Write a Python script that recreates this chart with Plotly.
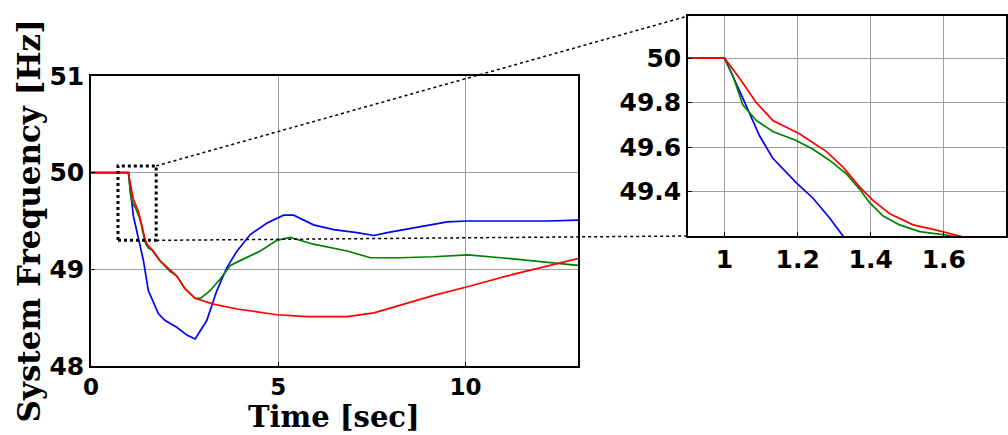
import plotly.graph_objects as go

# ---- data ----
t_blue = [0, 1.0, 1.050, 1.096, 1.132, 1.155, 1.196, 1.242, 1.288, 1.324, 1.40, 1.53, 1.80, 1.98, 2.29,
          2.56, 2.78, 3.09, 3.36, 3.63, 3.90, 4.25, 4.70, 5.14, 5.41, 5.94, 6.48, 7.10, 7.55, 7.91,
          8.62, 9.51, 10.05, 12.18, 13.0]
f_blue = [50, 50, 49.82, 49.65, 49.55, 49.51, 49.44, 49.37, 49.28, 49.20, 49.09, 48.78, 48.54, 48.47, 48.40,
          48.32, 48.28, 48.47, 48.78, 49.02, 49.19, 49.36, 49.48, 49.56, 49.56, 49.46, 49.41, 49.38, 49.35, 49.38,
          49.43, 49.49, 49.50, 49.50, 49.51]

t_green = [0, 1.0, 1.023, 1.050, 1.087, 1.132, 1.196, 1.242, 1.288, 1.333, 1.370, 1.397, 1.434, 1.479,
           1.534, 1.626, 1.84, 2.11, 2.29, 2.51, 2.78, 2.92, 3.18, 3.45, 3.72, 3.98, 4.52, 4.96, 5.32,
           5.94, 6.84, 7.46, 8.26, 9.15, 10.05, 10.94, 12.18, 13.0]
f_green = [50, 50, 49.92, 49.79, 49.72, 49.67, 49.63, 49.59, 49.54, 49.48, 49.41, 49.35, 49.29, 49.25,
           49.22, 49.20, 49.09, 48.98, 48.93, 48.80, 48.70, 48.70, 48.78, 48.90, 49.04, 49.09, 49.19, 49.30, 49.33,
           49.26, 49.19, 49.12, 49.12, 49.13, 49.15, 49.12, 49.07, 49.04]

t_red = [0, 1.0, 1.041, 1.087, 1.132, 1.169, 1.205, 1.242, 1.279, 1.324, 1.370, 1.406, 1.452, 1.516,
         1.571, 1.644, 1.84, 2.11, 2.29, 2.51, 2.78, 3.27, 3.90, 4.96, 5.77, 6.84, 7.55, 8.26, 9.15,
         10.05, 11.29, 13.0]
f_red = [50, 50, 49.91, 49.80, 49.72, 49.69, 49.66, 49.62, 49.58, 49.51, 49.42, 49.36, 49.30, 49.25,
         49.23, 49.20, 49.09, 49.00, 48.93, 48.80, 48.70, 48.64, 48.59, 48.53, 48.51, 48.51, 48.55, 48.63, 48.73,
         48.82, 48.95, 49.11]

main_xticks = [0, 5, 10]
main_yticks = [48, 49, 50, 51]
inset_xticks = [1, 1.2, 1.4, 1.6]
inset_xtext = ["1", "1.2", "1.4", "1.6"]
inset_yticks = [49.4, 49.6, 49.8, 50]
inset_ytext = ["49.4", "49.6", "49.8", "50"]

zoom_box_x = [0.72, 1.74]
zoom_box_y = [49.3, 50.07]

W, H = 1008, 435
main_dom_x = [91 / W, 578 / W]
main_dom_y = [(H - 366) / H, (H - 76) / H]
main_rx = [0, 13]
main_ry = [48, 51]
ins_dom_x = [688 / W, 1006 / W]
ins_dom_y = [(H - 236) / H, (H - 16) / H]
ins_rx = [0.9, 1.77]
ins_ry = [49.2, 50.19]

series = [(t_blue, f_blue, "rgb(0,0,255)"),
          (t_green, f_green, "rgb(0,128,0)"),
          (t_red, f_red, "rgb(255,0,0)")]

fig = go.Figure()
for t, f, c in series:
    fig.add_trace(go.Scatter(x=t, y=f, mode="lines", line=dict(color=c, width=1.7),
                             xaxis="x", yaxis="y", showlegend=False))
for t, f, c in series:
    fig.add_trace(go.Scatter(x=t, y=f, mode="lines", line=dict(color=c, width=1.7),
                             xaxis="x2", yaxis="y2", showlegend=False))

tickfont = dict(family="DejaVu Sans", size=25, color="black", weight="bold")
xtickfont = dict(family="DejaVu Sans", size=23, color="black", weight="bold")
axcommon = dict(showline=True, linecolor="black", linewidth=1.5, mirror=True,
                showgrid=True, gridcolor="#a0a0a0", gridwidth=1, zeroline=False,
                ticks="inside", ticklen=4, tickcolor="black",
                automargin=False)

fig.update_layout(
    width=W, height=H,
    margin=dict(l=0, r=0, t=0, b=0),
    paper_bgcolor="white", plot_bgcolor="white",
    xaxis=dict(domain=main_dom_x, range=main_rx, tickvals=main_xticks, anchor="y",
               tickfont=xtickfont, **axcommon),
    yaxis=dict(domain=main_dom_y, range=main_ry, tickvals=main_yticks, anchor="x",
               tickfont=tickfont, **axcommon),
    xaxis2=dict(domain=ins_dom_x, range=ins_rx, tickvals=inset_xticks, ticktext=inset_xtext,
                anchor="y2", tickfont=tickfont, **axcommon),
    yaxis2=dict(domain=ins_dom_y, range=ins_ry, tickvals=inset_yticks, ticktext=inset_ytext,
                anchor="x2", tickfont=tickfont, **axcommon),
)


def to_paper(xv, yv):
    px = main_dom_x[0] + (xv - main_rx[0]) / (main_rx[1] - main_rx[0]) * (main_dom_x[1] - main_dom_x[0])
    py = main_dom_y[0] + (yv - main_ry[0]) / (main_ry[1] - main_ry[0]) * (main_dom_y[1] - main_dom_y[0])
    return px, py


# dotted zoom rectangle
fig.add_shape(type="rect", xref="x", yref="y", x0=zoom_box_x[0], x1=zoom_box_x[1],
              y0=zoom_box_y[0], y1=zoom_box_y[1], line=dict(color="black", width=3, dash="dot"),
              layer="above")
# connectors
tr = to_paper(zoom_box_x[1], zoom_box_y[1])
br = to_paper(zoom_box_x[1], zoom_box_y[0])
fig.add_shape(type="line", xref="paper", yref="paper", x0=tr[0], y0=tr[1],
              x1=ins_dom_x[0], y1=ins_dom_y[1], line=dict(color="black", width=1.5, dash="dot"),
              layer="above")
fig.add_shape(type="line", xref="paper", yref="paper", x0=br[0], y0=br[1],
              x1=ins_dom_x[0], y1=ins_dom_y[0], line=dict(color="black", width=1.5, dash="dot"),
              layer="above")

titlefont = dict(family="DejaVu Serif", size=31, color="black", weight="bold")
xtitlefont = dict(family="DejaVu Serif", size=29, color="black", weight="bold")
fig.add_annotation(text="System Frequency [Hz]", xref="paper", yref="paper",
                   x=28.5 / W, y=(H - 221) / H, textangle=-90, showarrow=False,
                   font=titlefont, xanchor="center", yanchor="middle")
fig.add_annotation(text="Time [sec]", xref="paper", yref="paper",
                   x=334 / W, y=(H - 416.5) / H, showarrow=False,
                   font=xtitlefont, xanchor="center", yanchor="middle")

fig.write_html("out.html", config={"displayModeBar": False},
               post_script="document.body.style.margin='0';document.body.style.overflow='hidden';")
